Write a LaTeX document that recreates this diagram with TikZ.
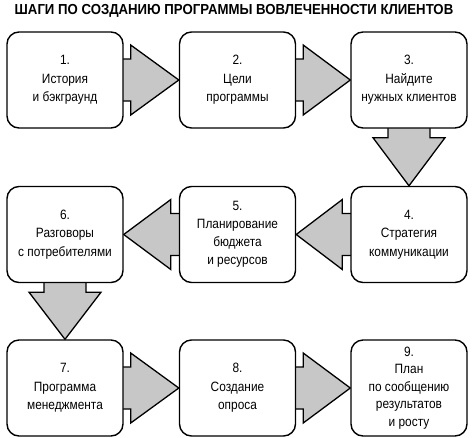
\documentclass[tikz,border=0pt]{standalone}
\usepackage{fontspec}
\setmainfont{Liberation Sans}
\newfontfamily\condfont[FakeStretch=0.88]{Liberation Sans}
\newfontfamily\titlefont[FakeStretch=0.91]{Liberation Sans}
\usetikzlibrary{calc,backgrounds}
\tikzset{
  stepbox/.style={draw=black, line width=1.4pt, fill=white, rounded corners=12pt,
    minimum width=116pt, minimum height=96pt, inner sep=0pt, align=center,
    font=\condfont\fontsize{13.5}{18.5}\selectfont},
  arrowshape/.style={draw=black, line width=1.3pt, fill=black!22, line join=miter},
}
\begin{document}
\begin{tikzpicture}[x=1pt,y=-1pt]
\useasboundingbox (0,0) rectangle (476,437);
\node[font=\titlefont\bfseries\fontsize{14.5}{16}\selectfont, anchor=center] (title) at (234,11) {ШАГИ ПО СОЗДАНИЮ ПРОГРАММЫ ВОВЛЕЧЕННОСТИ КЛИЕНТОВ};
\node[stepbox] (b1) at (65,80) {1.\\История\\и бэкграунд};
\node[stepbox] (b2) at (237.5,80) {2.\\Цели\\программы};
\node[stepbox] (b3) at (409,80) {3.\\Найдите\\нужных клиентов};
\node[stepbox] (b4) at (409,234.5) {4.\\Стратегия\\коммуникации};
\node[stepbox, font=\condfont\fontsize{13.5}{18}\selectfont] (b5) at (237.5,234.5) {5.\\Планирование\\бюджета\\и ресурсов};
\node[stepbox] (b6) at (65,234.5) {6.\\Разговоры\\с потребителями};
\node[stepbox] (b7) at (65,388) {7.\\Программа\\менеджмента};
\node[stepbox] (b8) at (237.5,388) {8.\\Создание\\опроса};
\node[stepbox, font=\condfont\fontsize{13.5}{17.5}\selectfont] (b9) at (409,388) {9.\\План\\по сообщению\\результатов\\и росту};
\begin{pgfonlayer}{background}
% right arrows
\foreach \a/\b in {b1/b2, b2/b3, b7/b8, b8/b9}{
  \draw[arrowshape] ($(\a.east)+(-3,-21)$) -- ($(\a.east)+(7,-21)$) -- ($(\a.east)+(7,-35)$)
    -- (\b.west) -- ($(\a.east)+(7,35)$) -- ($(\a.east)+(7,21)$) -- ($(\a.east)+(-3,21)$) -- cycle;
}
% left arrows
\foreach \a/\b in {b4/b5, b5/b6}{
  \draw[arrowshape] ($(\a.west)+(3,-21)$) -- ($(\a.west)+(-8,-21)$) -- ($(\a.west)+(-8,-35)$)
    -- (\b.east) -- ($(\a.west)+(-8,35)$) -- ($(\a.west)+(-8,21)$) -- ($(\a.west)+(3,21)$) -- cycle;
}
% down arrows
\foreach \a/\b in {b3/b4, b6/b7}{
  \draw[arrowshape] ($(\a.south)+(-21,-3)$) -- ($(\a.south)+(-21,9)$) -- ($(\a.south)+(-36,9)$)
    -- (\b.north) -- ($(\a.south)+(36,9)$) -- ($(\a.south)+(21,9)$) -- ($(\a.south)+(21,-3)$) -- cycle;
}
\end{pgfonlayer}
\end{tikzpicture}
\end{document}
